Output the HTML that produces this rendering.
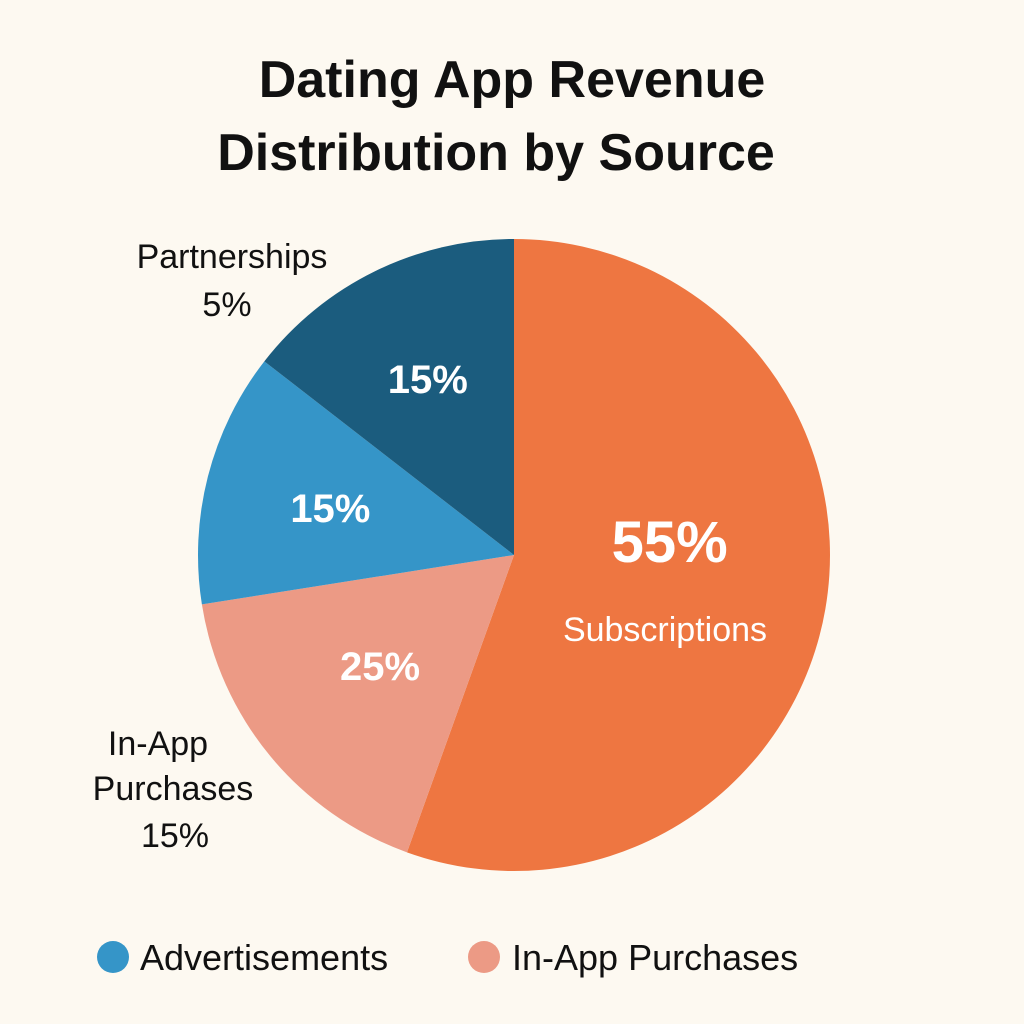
<!DOCTYPE html>
<html><head><meta charset="utf-8"><style>
body{margin:0;background:#fdf9f1;}
svg{display:block;font-family:"Liberation Sans","DejaVu Sans",sans-serif;}
</style></head><body>
<svg id="chart" width="1024" height="1024" viewBox="0 0 1024 1024">
<rect width="1024" height="1024" fill="#fdf9f1"/>
<text x="512" y="97" text-anchor="middle" font-size="52" font-weight="bold" fill="#111">Dating App Revenue</text>
<text x="496" y="170" text-anchor="middle" font-size="52" font-weight="bold" fill="#111">Distribution by Source</text>
<g id="slices"></g>
<g id="labels"></g>
<text x="232" y="268" text-anchor="middle" font-size="34" fill="#111">Partnerships</text>
<text x="227" y="316" text-anchor="middle" font-size="34" fill="#111">5%</text>
<text x="158" y="755" text-anchor="middle" font-size="34" fill="#111">In-App</text>
<text x="173" y="800" text-anchor="middle" font-size="34" fill="#111">Purchases</text>
<text x="175" y="847" text-anchor="middle" font-size="34" fill="#111">15%</text>
<text x="665" y="641" text-anchor="middle" font-size="34" fill="#fff">Subscriptions</text>
<g>
<circle cx="113" cy="957" r="16" fill="#3595c8"/>
<text x="140" y="970" font-size="36" fill="#111">Advertisements</text>
<circle cx="484" cy="957" r="16" fill="#ec9a85"/>
<text x="512" y="970" font-size="36" fill="#111">In-App Purchases</text>
</g>
</svg>
<script>
const categories = ["Subscriptions","In-App Purchases","Advertisements","Partnerships"];
const sliceValues = [55.5, 17, 13, 14.5];
const printedLabels = ["55%","25%","15%","15%"];
const colors = ["#ee7641","#ec9a85","#3595c8","#1b5c7e"];
const cx=514, cy=555, r=316;
const total = sliceValues.reduce((a,b)=>a+b,0);
function pt(a,rr){return [cx+rr*Math.sin(a), cy-rr*Math.cos(a)];}
const ns="http://www.w3.org/2000/svg";
const gS=document.getElementById('slices'), gL=document.getElementById('labels');
let acc=0;
const labelR=[0.5,0.55,0.6,0.62];
sliceValues.forEach((v,i)=>{
  const a0=acc/total*2*Math.PI; acc+=v; const a1=acc/total*2*Math.PI;
  const p0=pt(a0,r), p1=pt(a1,r);
  const large=(a1-a0)>Math.PI?1:0;
  const p=document.createElementNS(ns,'path');
  p.setAttribute('d',`M${cx},${cy} L${p0[0]},${p0[1]} A${r},${r} 0 ${large} 1 ${p1[0]},${p1[1]} Z`);
  p.setAttribute('fill',colors[i]);
  
  
  gS.appendChild(p);
  const am=(a0+a1)/2, lp=pt(am,r*labelR[i]);
  const t=document.createElementNS(ns,'text');
  t.setAttribute('x',lp[0]); t.setAttribute('y',lp[1]+(i===0?-20:14));
  t.setAttribute('text-anchor','middle'); t.setAttribute('fill','#fff');
  t.setAttribute('font-weight','bold'); t.setAttribute('font-size',i===0?'58':'40');
  t.textContent=printedLabels[i];
  
  
  gL.appendChild(t);
});
</script>
</body></html>
